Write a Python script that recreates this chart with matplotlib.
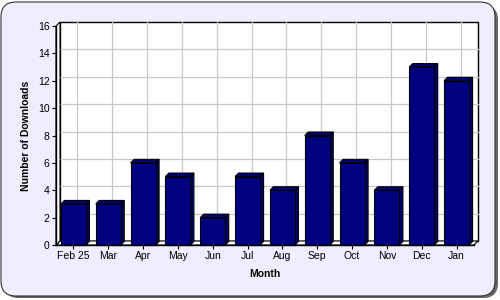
import matplotlib
matplotlib.use("Agg")
from matplotlib import pyplot as plt
from matplotlib.patches import FancyBboxPatch, Polygon, Rectangle

months = ["Feb 25", "Mar", "Apr", "May", "Jun", "Jul", "Aug", "Sep", "Oct", "Nov", "Dec", "Jan"]
downloads = [3, 3, 6, 5, 2, 5, 4, 8, 6, 4, 13, 12]
yticks = [0, 2, 4, 6, 8, 10, 12, 14, 16]

plt.rcParams['font.family'] = ['Liberation Sans', 'DejaVu Sans']

W, H = 500, 300
fig = plt.figure(figsize=(5, 3), dpi=100)
fig.patch.set_facecolor('white')

# rounded panel with shadow
shadow = FancyBboxPatch((4 / W, 2 / H), 494 / W, 293 / H,
                        boxstyle="round,pad=0,rounding_size=0.03",
                        transform=fig.transFigure, facecolor='#666666',
                        edgecolor='none', mutation_aspect=W / H, zorder=-11)
panel = FancyBboxPatch((1 / W, 4 / H), 494 / W, 294 / H,
                       boxstyle="round,pad=0,rounding_size=0.03",
                       transform=fig.transFigure, facecolor='#eeeeff',
                       edgecolor='#333333', linewidth=0.8, mutation_aspect=W / H, zorder=-10)
fig.patches.extend([shadow, panel])

# front plot area in pixels: left 56, right 474, bottom 245, top 26
left, right, bottom, top = 56, 474, 245, 26
ax = fig.add_axes([left / W, (H - bottom) / H, (right - left) / W, (bottom - top) / H])
ax.set_facecolor('none')
n = len(months)
ax.set_xlim(-0.5, n - 0.5)
ax.set_ylim(0, 16)

pxx = (right - left) / n          # pixels per x unit
pxy = (bottom - top) / 16.0       # pixels per y unit
dx, dy = 4 / pxx, 4 / pxy         # wall depth
bdx, bdy = 3.5 / pxx, 3.5 / pxy   # bar depth
x0, x1 = -0.5, n - 0.5

def poly(pts, fc, z, ec='black', lw=0.8):
    p = Polygon(pts, closed=True, facecolor=fc, edgecolor=ec, linewidth=lw,
                zorder=z, clip_on=False, joinstyle='miter')
    ax.add_patch(p)

# back wall
ax.add_patch(Rectangle((x0 + dx, dy), x1 - x0, 16, facecolor='white',
                       edgecolor='black', linewidth=1.0, zorder=1, clip_on=False))
for v in yticks[1:-1]:
    ax.plot([x0 + dx, x1 + dx], [v + dy, v + dy], color='#c8c8c8', lw=0.9, zorder=2, clip_on=False)
for i in range(n):
    ax.plot([i + dx, i + dx], [dy, 16 + dy], color='#c8c8c8', lw=0.9, zorder=2, clip_on=False)

# floor and left wall
poly([(x0, 0), (x1, 0), (x1 + dx, dy), (x0 + dx, dy)], 'white', 3)
poly([(x0, 0), (x0, 16), (x0 + dx, 16 + dy), (x0 + dx, dy)], 'white', 3)

# 3D bars
bw = 25 / pxx
for i, v in enumerate(downloads):
    a, b = i - bw / 2, i + bw / 2
    poly([(b, 0), (b + bdx, bdy), (b + bdx, v + bdy), (b, v)], '#000066', 4)
    poly([(a, v), (b, v), (b + bdx, v + bdy), (a + bdx, v + bdy)], '#000070', 4)
    poly([(a, 0), (b, 0), (b, v), (a, v)], '#000080', 5)

for s in ['top', 'right']:
    ax.spines[s].set_visible(False)
for s in ['left', 'bottom']:
    ax.spines[s].set_linewidth(1.0)
    ax.spines[s].set_zorder(6)

ax.set_xticks(range(n))
ax.set_xticklabels(months)
ax.set_yticks(yticks)
ax.tick_params(axis='both', direction='out', length=3, width=0.8, labelsize=7.5, pad=1.5, colors='black')

ax.set_xlabel('Month', fontsize=7.5, fontweight='bold', labelpad=5.5)
ax.set_ylabel('Number of Downloads', fontsize=7.5, fontweight='bold', labelpad=5)

fig.savefig('out.png', dpi=100)
